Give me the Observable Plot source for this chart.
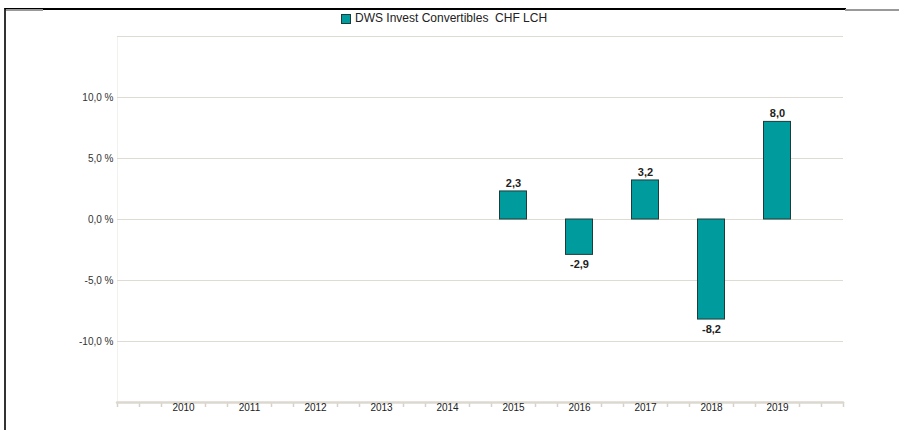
<!DOCTYPE html>
<html>
<head>
<meta charset="utf-8">
<script src="https://cdn.jsdelivr.net/npm/d3@7"></script>
<script src="https://cdn.jsdelivr.net/npm/@observablehq/plot@0.6"></script>
<style>
  html, body { margin: 0; padding: 0; background: #fff; }
  body { width: 899px; height: 430px; position: relative; overflow: hidden; font-family: "Liberation Sans", Arial, sans-serif; }
  #frame { position: absolute; left: 4px; top: 8px; width: 840px; height: 430px; border-top: 2px solid #000; border-left: 2px solid #333; }
  #frame2 { position: absolute; left: 845px; top: 9px; width: 54px; border-top: 2px solid #999; }
  #frame3 { position: absolute; left: 6px; top: 9px; width: 37px; border-top: 2px solid #999; }
  #legend { position: relative; height: 28px; }
  #legend .sw { position: absolute; left: 341px; top: 14px; width: 8px; height: 8px; background: #009b9c; border: 1px solid #1d3c3c; }
  #legend .lb { position: absolute; left: 355px; top: 11px; font-size: 12px; color: #222; white-space: pre; }
  #chart { position: relative; }
</style>
</head>
<body>
<div id="frame"></div><div id="frame2"></div><div id="frame3"></div>
<div id="legend"><div class="sw"></div><div class="lb">DWS Invest Convertibles  CHF LCH</div></div>
<div id="chart"></div>
<script>
const seriesName = "DWS Invest Convertibles  CHF LCH";
const years = [2010, 2011, 2012, 2013, 2014, 2015, 2016, 2017, 2018, 2019];
const values = [null, null, null, null, null, 2.3, -2.9, 3.2, -8.2, 8.0];
const yLabelTicks = [-10, -5, 0, 5, 10];
const yGridTicks = [-15, -10, -5, 0, 5, 10, 15];
const xDomain = [2009, 2020];
const yDomain = [-15, 15];

const data = years.map((year, i) => ({year, value: values[i]})).filter(d => d.value != null);
const fmtPct = v => v.toFixed(1).replace(".", ",") + " %";
const fmtVal = v => v.toFixed(1).replace(".", ",");
const minorTicks = d3.range(xDomain[0] * 3, xDomain[1] * 3 + 1).map(k => k / 3)
  .filter(t => Math.abs(t - Math.round(t)) > 1e-6 || t === xDomain[0] || t === xDomain[1]);
const halfWidth = 0.2045;

const chart = Plot.plot({
  width: 899,
  height: 402,
  marginLeft: 117,
  marginRight: 56,
  marginTop: 8,
  marginBottom: 28,
  style: {fontFamily: "'Liberation Sans', Arial, sans-serif", background: "transparent"},
  x: {type: "linear", domain: xDomain, axis: null, label: null},
  y: {domain: yDomain, axis: null, label: null},
  marks: [
    Plot.ruleX([xDomain[0]], {stroke: "#f2f1ee", strokeWidth: 1}),
    Plot.ruleY(yGridTicks.filter(t => t !== yDomain[0]), {stroke: "#dedbd3", strokeWidth: 1.2}),
    Plot.axisY({ticks: yLabelTicks, tickSize: 0, tickPadding: 4, tickFormat: fmtPct, fontSize: 10, color: "#333", label: null}),
    Plot.axisX({ticks: minorTicks, tickSize: 5, tickFormat: () => "", stroke: "#d6d2c8", strokeWidth: 1.5, label: null}),
    Plot.ruleY([yDomain[0]], {stroke: "#dcd8cf", strokeWidth: 2.5, strokeLinecap: "round"}),
    Plot.axisX({ticks: years, tickSize: 0, tickPadding: 1, tickFormat: d => String(d), fontSize: 10, color: "#222", label: null}),
    Plot.rectY(data, {x1: d => d.year - halfWidth, x2: d => d.year + halfWidth, y1: 0, y2: "value", fill: "#009b9c", stroke: "#1d3c3c", strokeWidth: 1}),
    Plot.text(data.filter(d => d.value >= 0), {x: "year", y: "value", text: d => fmtVal(d.value), dy: -8, fontSize: 11, fontWeight: "bold", fill: "#222"}),
    Plot.text(data.filter(d => d.value < 0), {x: "year", y: "value", text: d => fmtVal(d.value), dy: 10, fontSize: 11, fontWeight: "bold", fill: "#222"})
  ]
});
document.getElementById("chart").appendChild(chart);
</script>
</body>
</html>
